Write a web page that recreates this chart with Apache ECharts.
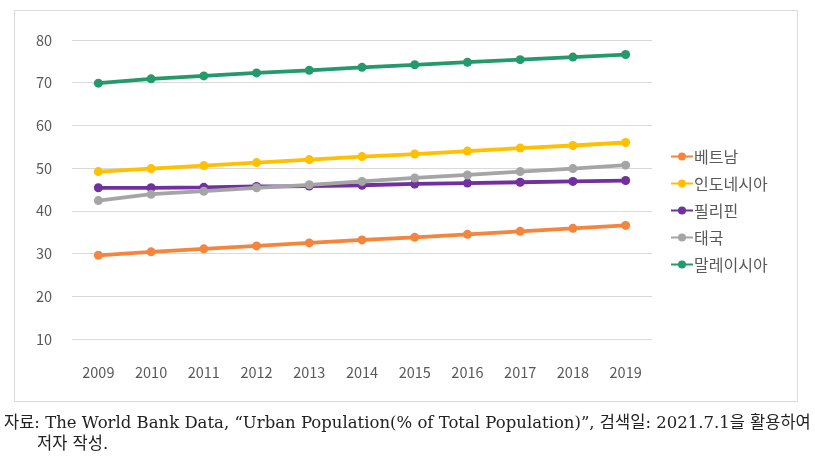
<!DOCTYPE html>
<html>
<head>
<meta charset="utf-8">
<script src="https://cdn.jsdelivr.net/npm/echarts@6/dist/echarts.min.js"></script>
<style>
html,body{margin:0;padding:0;background:#fff;}
#chart{width:815px;height:463px;}
</style>
</head>
<body>
<div id="chart"></div>
<script>
const years = ['2009','2010','2011','2012','2013','2014','2015','2016','2017','2018','2019'];
const vietnam = [29.6, 30.4, 31.1, 31.8, 32.5, 33.2, 33.8, 34.5, 35.2, 35.9, 36.6];
const indonesia = [49.2, 49.9, 50.6, 51.3, 52.0, 52.7, 53.3, 54.0, 54.7, 55.3, 56.0];
const philippines = [45.4, 45.4, 45.5, 45.7, 45.8, 46.0, 46.3, 46.5, 46.7, 46.9, 47.1];
const thailand = [42.4, 43.9, 44.6, 45.4, 46.1, 46.9, 47.7, 48.4, 49.2, 49.9, 50.7];
const malaysia = [69.9, 70.9, 71.6, 72.3, 72.9, 73.6, 74.2, 74.8, 75.4, 76.0, 76.6];
const seriesNames = ['베트남','인도네시아','필리핀','태국','말레이시아'];
const seriesData = [vietnam, indonesia, philippines, thailand, malaysia];
const colors = ['#F5843C','#FFC000','#7030A0','#A5A5A5','#23996C'];
const yTicks = {min: 10, max: 80, interval: 10};
const sourceLine1 = '자료: The World Bank Data, “Urban Population(% of Total Population)”, 검색일: 2021.7.1을 활용하여';
const sourceLine2 = '저자 작성.';

const chart = echarts.init(document.getElementById('chart'));
const series = seriesNames.map((n, i) => ({
  name: n,
  type: 'line',
  data: seriesData[i],
  symbol: 'circle',
  symbolSize: 9,
  z: i === 2 ? 2 : 3,
  lineStyle: {width: 3.8, color: colors[i]},
  itemStyle: {color: colors[i]}
}));
chart.setOption({
  animation: false,
  color: colors,
  grid: {left: 72, right: 163, top: 40, bottom: 124},
  xAxis: {
    type: 'category',
    data: years,
    boundaryGap: true,
    axisLine: {show: false},
    axisTick: {show: false},
    axisLabel: {color: '#595959', fontSize: 14.5, margin: 26, fontFamily: 'Noto Sans CJK KR, Noto Sans, sans-serif'}
  },
  yAxis: {
    type: 'value',
    min: yTicks.min, max: yTicks.max, interval: yTicks.interval,
    axisLine: {show: false},
    axisTick: {show: false},
    axisLabel: {color: '#595959', fontSize: 14.5, margin: 20, fontFamily: 'Noto Sans CJK KR, Noto Sans, sans-serif'},
    splitLine: {lineStyle: {color: '#D9D9D9', width: 1}}
  },
  legend: {
    orient: 'vertical',
    left: 665,
    top: 141,
    itemGap: 6,
    itemWidth: 22,
    itemHeight: 10,
    textStyle: {color: '#595959', fontSize: 16, lineHeight: 21, fontFamily: 'Noto Sans CJK KR, sans-serif', padding: [0,0,0,-4]},
    data: seriesNames
  },
  graphic: [
    {type: 'rect', shape: {x: 14.5, y: 10.5, width: 783, height: 391}, style: {fill: 'none', stroke: '#D9D9D9', lineWidth: 1}, silent: true},
    {type: 'text', left: 4, top: 415, style: {text: sourceLine1, fill: '#222', fontSize: 16.5, fontFamily: 'DejaVu Serif, Noto Sans CJK KR, serif'}},
    {type: 'text', left: 37, top: 436, style: {text: sourceLine2, fill: '#222', fontSize: 16.5, fontFamily: 'DejaVu Serif, Noto Sans CJK KR, serif'}}
  ],
  series: series
});
</script>
</body>
</html>
